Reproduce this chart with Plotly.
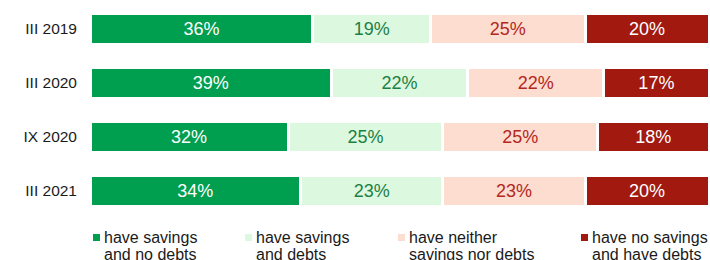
import plotly.graph_objects as go

categories = ["III 2019", "III 2020", "IX 2020", "III 2021"]
series_names = [
    "have savings<br>and no debts",
    "have savings<br>and debts",
    "have neither<br>savings nor debts",
    "have no savings<br>and have debts",
]
no_debt_savings = [36, 39, 32, 34]
savings_and_debts = [19, 22, 25, 23]
neither = [25, 22, 25, 23]
debts_no_savings = [20, 17, 18, 20]
values = [no_debt_savings, savings_and_debts, neither, debts_no_savings]

colors = ["#009E4F", "#DCF8DF", "#FDDDD0", "#A1190F"]
text_colors = ["#FFFFFF", "#1C7F45", "#B3271D", "#FFFFFF"]

W, H = 710, 260
ML, MR, MT, MB = 90, 1, 2, 42
PW = W - ML - MR
PH = H - MT - MB

fig = go.Figure()
for name, vals, c, tc in zip(series_names, values, colors, text_colors):
    fig.add_trace(go.Bar(
        y=categories, x=vals, orientation="h", name=name,
        marker=dict(color=c, line=dict(color="#FFFFFF", width=3)),
        text=[f"{v}%" for v in vals], textposition="inside",
        insidetextanchor="middle",
        textfont=dict(color=tc, size=18, family="Liberation Sans, Arial"),
        showlegend=False, hoverinfo="skip",
    ))

def px_x(px):
    return (px - ML) / PW

def px_y(py):
    return (H - MB - py) / PH

# custom legend
legend_marker_x = [93, 245, 398, 581]
annotations = []
shapes = []
for name, c, mx in zip(series_names, colors, legend_marker_x):
    shapes.append(dict(type="rect", xref="paper", yref="paper",
                       x0=px_x(mx), x1=px_x(mx + 7), y0=px_y(241), y1=px_y(234),
                       fillcolor=c, line=dict(width=0)))
    for i, line in enumerate(name.split("<br>")):
        annotations.append(dict(
            xref="paper", yref="paper", x=px_x(mx + 9), y=px_y(237 + 17 * i),
            xanchor="left", yanchor="middle", text=line, showarrow=False,
            font=dict(size=16, color="#1A1A1A", family="Liberation Sans, Arial"),
        ))

fig.update_layout(
    barmode="stack", bargap=0.444,
    width=W, height=H,
    margin=dict(l=ML, r=MR, t=MT, b=MB, autoexpand=False),
    paper_bgcolor="white", plot_bgcolor="white",
    xaxis=dict(range=[0, 100], visible=False, fixedrange=True, automargin=False),
    yaxis=dict(autorange="reversed", showgrid=False, showline=False, zeroline=False,
               ticks="", ticklabelstandoff=12, automargin=False,
               tickfont=dict(size=15.5, color="#1A1A1A", family="Liberation Sans, Arial")),
    uniformtext=dict(mode=False),
    shapes=shapes, annotations=annotations,
    showlegend=False,
)

fig.write_html(
    "out.html",
    config={"displayModeBar": False},
    post_script="document.body.style.margin='0';document.body.style.overflow='hidden';",
)
